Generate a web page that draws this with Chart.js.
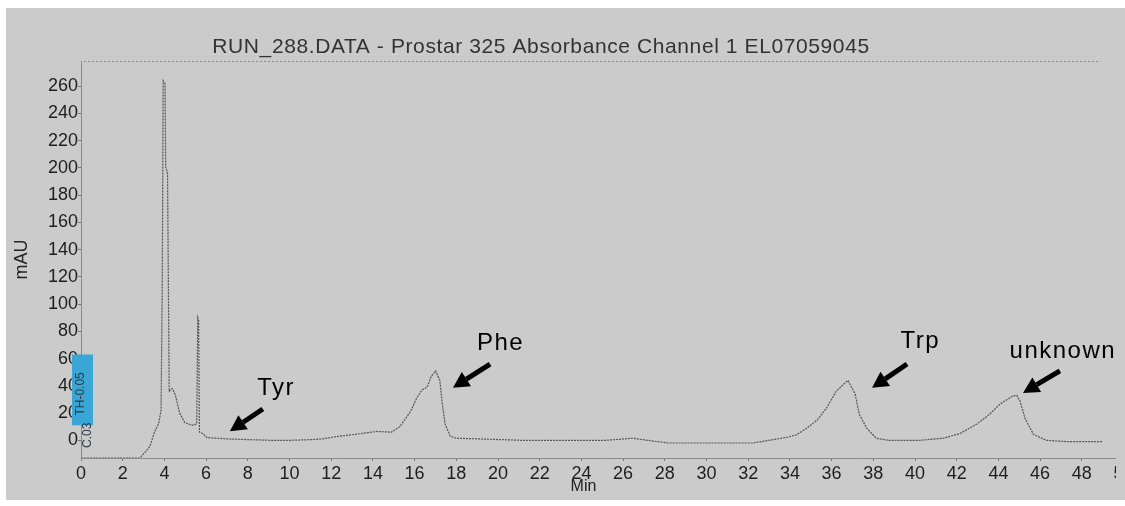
<!DOCTYPE html>
<html>
<head>
<meta charset="utf-8">
<script src="https://cdn.jsdelivr.net/npm/chart.js@4.4.1/dist/chart.umd.min.js"></script>
<style>
  html, body { margin: 0; padding: 0; background: #fff; overflow: hidden; width: 1125px; height: 506px; }
  #panel { position: absolute; left: 6px; top: 8px; width: 1119px; height: 492px; background: #cbcbcb; }
  #clip { position: absolute; left: 0; top: 0; width: 1110px; height: 492px; overflow: hidden; }
</style>
</head>
<body>
<div id="panel"><div id="clip"><canvas id="chromChart" width="1150" height="492"></canvas></div></div>
<script>
const chartTitle = 'RUN_288.DATA - Prostar 325 Absorbance Channel 1 EL07059045';

// retention time (min) and absorbance (mAU)
const times = [0, 1.01, 2.01, 2.82, 3.12, 3.32, 3.52, 3.72, 3.84, 3.9, 3.94, 4.03, 4.06, 4.15, 4.23, 4.38, 4.53, 4.73, 4.98, 5.33,
  5.55, 5.6, 5.64, 5.68, 5.84, 6.04, 6.54, 7.04, 8.05, 9.06, 10.06, 11.07, 11.57, 12.38, 13.18, 14.19, 14.89, 15.29, 15.8, 16.1,
  16.35, 16.6, 16.8, 17.01, 17.21, 17.31, 17.46, 17.71, 18.01, 19.12, 20.12, 21.13, 23.14, 25.16, 26.46, 27.17, 28.17, 30.19, 32.2, 33.0,
  33.81, 34.31, 34.82, 35.32, 35.77, 36.22, 36.78, 37.13, 37.33, 37.68, 38.14, 38.74, 40.25, 41.36, 42.16, 42.97, 43.57, 44.07, 44.68, 44.88,
  45.03, 45.28, 45.68, 46.29, 47.29, 49.0];
const mAU = [-13, -13, -13, -13, -8, -4, 6, 12, 22, 120, 264, 262, 201, 196, 36, 38, 33, 20, 13, 11,
  12, 90, 88, 6, 5, 2, 1.5, 1, 0.5, 0, 0, 0.5, 1, 3, 4.4, 6.5, 6, 10, 21, 31,
  37, 39, 47, 51, 44, 29, 12, 3, 1.5, 1, 0.5, 0, 0, 0, 1.5, 0, -2, -2, -2, 0,
  2, 4, 9, 15, 24, 36, 44, 34, 19, 9, 1.5, 0, 0, 1.5, 5, 12, 19, 26.5, 32.5, 33,
  29, 16, 4.4, 0, -1, -1];

const xTicks = [0, 2, 4, 6, 8, 10, 12, 14, 16, 18, 20, 22, 24, 26, 28, 30, 32, 34, 36, 38, 40, 42, 44, 46, 48, 50];
const yTicks = [0, 20, 40, 60, 80, 100, 120, 140, 160, 180, 200, 220, 240, 260];

// peak annotations: label, label position, arrow tail, arrow tip (min, mAU)
const peakNames = ['Tyr', 'Phe', 'Trp', 'unknown'];
const peakLabelAt = [[9.36, 38], [20.12, 71], [40.25, 72.5], [47.09, 65]];
const peakTail = [[8.72, 23], [19.62, 56], [39.62, 56], [46.95, 51]];
const peakTip = [[7.14, 6.7], [17.84, 38.5], [37.94, 38.5], [45.18, 34.8]];

const fontFamily = '"Liberation Sans", Arial, sans-serif';

function drawArrow(ctx, x0, y0, x1, y1) {
  const ang = Math.atan2(y1 - y0, x1 - x0);
  const headLen = 16, headW = 8.5;
  const bx = x1 - headLen * Math.cos(ang), by = y1 - headLen * Math.sin(ang);
  ctx.lineWidth = 5;
  ctx.beginPath();
  ctx.moveTo(x0, y0);
  ctx.lineTo(bx, by);
  ctx.stroke();
  ctx.beginPath();
  ctx.moveTo(x1, y1);
  ctx.lineTo(bx + headW * Math.sin(ang), by - headW * Math.cos(ang));
  ctx.lineTo(bx - headW * Math.sin(ang), by + headW * Math.cos(ang));
  ctx.closePath();
  ctx.fill();
}

const extras = {
  id: 'extras',
  afterDraw(chart) {
    const { ctx, chartArea: a, scales: { x, y } } = chart;
    ctx.save();

    // dotted frame line at the top
    ctx.strokeStyle = '#8a8a8a';
    ctx.lineWidth = 1;
    ctx.setLineDash([2, 2]);
    ctx.beginPath();
    ctx.moveTo(a.left + 3, a.top + 0.5);
    ctx.lineTo(x.getPixelForValue(48.9), a.top + 0.5);
    ctx.stroke();
    ctx.setLineDash([]);

    // title
    ctx.fillStyle = '#333';
    ctx.font = '21px ' + fontFamily;
    ctx.letterSpacing = '0.6px';
    ctx.textAlign = 'center';
    ctx.textBaseline = 'middle';
    ctx.fillText(chartTitle, 535, 39);
    ctx.letterSpacing = '0px';

    // x axis name
    ctx.fillStyle = '#222';
    ctx.font = '16px ' + fontFamily;
    ctx.fillText('Min', x.getPixelForValue(24.1), a.bottom + 29);

    // threshold box near the origin
    const bx = x.getPixelForValue(0) - 9, bTop = y.getPixelForValue(63), bBot = y.getPixelForValue(11);
    ctx.fillStyle = '#3aa6d6';
    ctx.fillRect(bx, bTop, 21, bBot - bTop);
    ctx.fillStyle = '#2a3a44';
    ctx.font = '12px ' + fontFamily;
    ctx.save();
    ctx.translate(bx + 9, (bTop + bBot) / 2 + 4);
    ctx.rotate(-Math.PI / 2);
    ctx.fillText('TH-0.05', 0, 0);
    ctx.restore();
    ctx.save();
    ctx.translate(bx + 16, bBot + 10);
    ctx.rotate(-Math.PI / 2);
    ctx.fillText('C.03', 0, 0);
    ctx.restore();

    // peak labels and arrows
    ctx.fillStyle = '#000';
    ctx.strokeStyle = '#000';
    ctx.font = '24px ' + fontFamily;
    ctx.letterSpacing = '1.5px';
    peakNames.forEach((name, i) => {
      ctx.fillText(name, x.getPixelForValue(peakLabelAt[i][0]), y.getPixelForValue(peakLabelAt[i][1]));
      drawArrow(ctx,
        x.getPixelForValue(peakTail[i][0]), y.getPixelForValue(peakTail[i][1]),
        x.getPixelForValue(peakTip[i][0]), y.getPixelForValue(peakTip[i][1]));
    });
    ctx.letterSpacing = '0px';
    ctx.restore();
  }
};

const axisGrid = { display: true, drawOnChartArea: false, drawTicks: true, tickLength: 3, color: '#777' };
const axisBorder = { display: true, color: '#8a8a8a', dash: [2, 2], width: 1 };

new Chart(document.getElementById('chromChart'), {
  type: 'line',
  data: {
    datasets: [{
      data: times.map((t, i) => ({ x: t, y: mAU[i] })),
      borderColor: '#555',
      borderWidth: 1.2,
      borderDash: [2, 1],
      pointRadius: 0,
      tension: 0,
      fill: false
    }]
  },
  options: {
    responsive: false,
    animation: false,
    layout: { padding: { left: 0, top: 53, right: 32.5, bottom: 0 } },
    plugins: { legend: { display: false }, tooltip: { enabled: false }, title: { display: false } },
    scales: {
      x: {
        type: 'linear',
        min: 0,
        max: 50,
        afterBuildTicks: s => { s.ticks = xTicks.map(v => ({ value: v })); },
        afterFit: s => { s.height = 42; },
        ticks: { color: '#1e1e1e', font: { size: 18, family: fontFamily }, padding: 2, maxRotation: 0, autoSkip: false },
        grid: axisGrid,
        border: axisBorder
      },
      y: {
        type: 'linear',
        min: -13,
        max: 278.5,
        afterBuildTicks: s => { s.ticks = yTicks.map(v => ({ value: v })); },
        afterFit: s => { s.width = 75; },
        ticks: { color: '#1e1e1e', font: { size: 18, family: fontFamily }, padding: 0, autoSkip: false },
        title: { display: true, text: 'mAU', color: '#222', font: { size: 18, family: fontFamily }, padding: 5 },
        grid: axisGrid,
        border: axisBorder
      }
    }
  },
  plugins: [extras]
});
</script>
</body>
</html>
